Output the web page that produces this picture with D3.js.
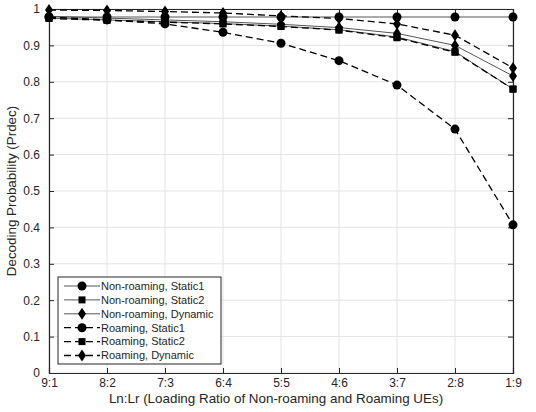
<!DOCTYPE html>
<html>
<head>
<meta charset="utf-8">
<script src="https://cdn.jsdelivr.net/npm/d3@7"></script>
<style>
  body { margin: 0; background: #fff; }
  text { font-family: "Liberation Sans", Arial, sans-serif; fill: #262626; }
</style>
</head>
<body>
<svg width="536" height="412"></svg>
<script>
const svg = d3.select("svg");

// categories and tick labels
const ratios = ["9:1", "8:2", "7:3", "6:4", "5:5", "4:6", "3:7", "2:8", "1:9"];
const yTicks = [0, 0.1, 0.2, 0.3, 0.4, 0.5, 0.6, 0.7, 0.8, 0.9, 1];

// series values
const nonRoamStatic1 = [0.978, 0.978, 0.978, 0.978, 0.978, 0.978, 0.978, 0.978, 0.978];
const nonRoamStatic2 = [0.975, 0.970, 0.965, 0.960, 0.953, 0.943, 0.923, 0.883, 0.780];
const nonRoamDynamic = [0.980, 0.975, 0.970, 0.965, 0.958, 0.949, 0.933, 0.900, 0.816];
const roamStatic1 = [0.978, 0.970, 0.959, 0.936, 0.906, 0.858, 0.791, 0.670, 0.407];
const roamStatic2 = [0.974, 0.969, 0.964, 0.959, 0.952, 0.942, 0.921, 0.881, 0.780];
const roamDynamic = [0.997, 0.996, 0.993, 0.989, 0.981, 0.974, 0.959, 0.928, 0.838];

const series = [
  { name: "Non-roaming, Static1", values: nonRoamStatic1, marker: "circle", dashed: false },
  { name: "Non-roaming, Static2", values: nonRoamStatic2, marker: "square", dashed: false },
  { name: "Non-roaming, Dynamic", values: nonRoamDynamic, marker: "diamond", dashed: false },
  { name: "Roaming, Static1", values: roamStatic1, marker: "circle", dashed: true },
  { name: "Roaming, Static2", values: roamStatic2, marker: "square", dashed: true },
  { name: "Roaming, Dynamic", values: roamDynamic, marker: "diamond", dashed: true }
];

const pLeft = 49, pRight = 513, pTop = 9, pBottom = 373;

const x = d3.scalePoint().domain(ratios).range([pLeft, pRight]);
const y = d3.scaleLinear().domain([0, 1]).range([pBottom, pTop]);

// grid
const grid = svg.append("g");
grid.selectAll(".gx").data(ratios).enter().append("line")
  .attr("x1", d => x(d)).attr("x2", d => x(d))
  .attr("y1", pTop).attr("y2", pBottom)
  .attr("stroke", "#e3e3e3").attr("stroke-width", 1);
grid.selectAll(".gy").data(yTicks).enter().append("line")
  .attr("x1", pLeft).attr("x2", pRight)
  .attr("y1", d => y(d)).attr("y2", d => y(d))
  .attr("stroke", "#e3e3e3").attr("stroke-width", 1);

// axes (ticks point inward like matlab)
const axisColor = "#262626";
const xAxis = svg.append("g").attr("transform", `translate(0,${pBottom})`)
  .call(d3.axisBottom(x).tickSize(-5).tickPadding(8));
const yAxis = svg.append("g").attr("transform", `translate(${pLeft},0)`)
  .call(d3.axisLeft(y).tickValues(yTicks).tickSize(-5).tickPadding(9).tickFormat(d3.format("~g")));
const yAxisR = svg.append("g").attr("transform", `translate(${pRight},0)`)
  .call(d3.axisRight(y).tickValues(yTicks).tickSize(-5).tickFormat(""));
const xAxisT = svg.append("g").attr("transform", `translate(0,${pTop})`)
  .call(d3.axisTop(x).tickSize(-5).tickFormat(""));

[xAxis, yAxis, yAxisR, xAxisT].forEach(a => {
  a.select(".domain").attr("stroke", axisColor).attr("stroke-width", 1.2);
  a.selectAll(".tick line").attr("stroke", axisColor);
  a.selectAll(".tick text").attr("font-size", 12).attr("fill", "#404040")
    .style("font-family", "'Liberation Sans', Arial, sans-serif");
});
xAxis.selectAll(".tick text").attr("dy", "0.5em");

// marker drawing
function drawMarker(g, type, cx, cy) {
  if (type === "circle") {
    g.append("circle").attr("cx", cx).attr("cy", cy).attr("r", 4.5).attr("fill", "#000");
  } else if (type === "square") {
    g.append("rect").attr("x", cx - 3.5).attr("y", cy - 3.5).attr("width", 7).attr("height", 7).attr("fill", "#000");
  } else {
    g.append("path")
      .attr("d", `M${cx},${cy - 6}L${cx + 4},${cy}L${cx},${cy + 6}L${cx - 4},${cy}Z`)
      .attr("fill", "#000");
  }
}

const line = d3.line().x((d, i) => x(ratios[i])).y(d => y(d));

const plot = svg.append("g");
series.forEach(s => {
  plot.append("path")
    .datum(s.values)
    .attr("d", line)
    .attr("fill", "none")
    .attr("stroke", s.dashed ? "#000" : "#555")
    .attr("stroke-width", s.dashed ? 1.3 : 1)
    .attr("stroke-dasharray", s.dashed ? "7,4" : null);
  const mg = plot.append("g");
  s.values.forEach((v, i) => drawMarker(mg, s.marker, x(ratios[i]), y(v)));
});

// legend
const lg = svg.append("g").attr("transform", "translate(58,277)");
lg.append("rect").attr("width", 163).attr("height", 87)
  .attr("fill", "#fff").attr("stroke", axisColor).attr("stroke-width", 1);
series.forEach((s, i) => {
  const ly = 9 + i * 13.9;
  lg.append("line").attr("x1", 6).attr("x2", 42).attr("y1", ly).attr("y2", ly)
    .attr("stroke", s.dashed ? "#000" : "#555")
    .attr("stroke-width", s.dashed ? 1.3 : 1)
    .attr("stroke-dasharray", s.dashed ? "7,4" : null);
  drawMarker(lg, s.marker, 24, ly);
  lg.append("text").attr("x", 43).attr("y", ly).attr("dy", "0.35em")
    .attr("font-size", 11).attr("fill", "#333").text(s.name);
});

// axis labels
svg.append("text").attr("x", (pLeft + pRight) / 2 - 5).attr("y", 403)
  .attr("text-anchor", "middle").attr("font-size", 13.4).attr("fill", "#333")
  .text("Ln:Lr (Loading Ratio of Non-roaming and Roaming UEs)");
svg.append("text").attr("transform", `translate(16,${(pTop + pBottom) / 2}) rotate(-90)`)
  .attr("text-anchor", "middle").attr("font-size", 13.4).attr("fill", "#333")
  .text("Decoding Probability (Prdec)");
</script>
</body>
</html>
